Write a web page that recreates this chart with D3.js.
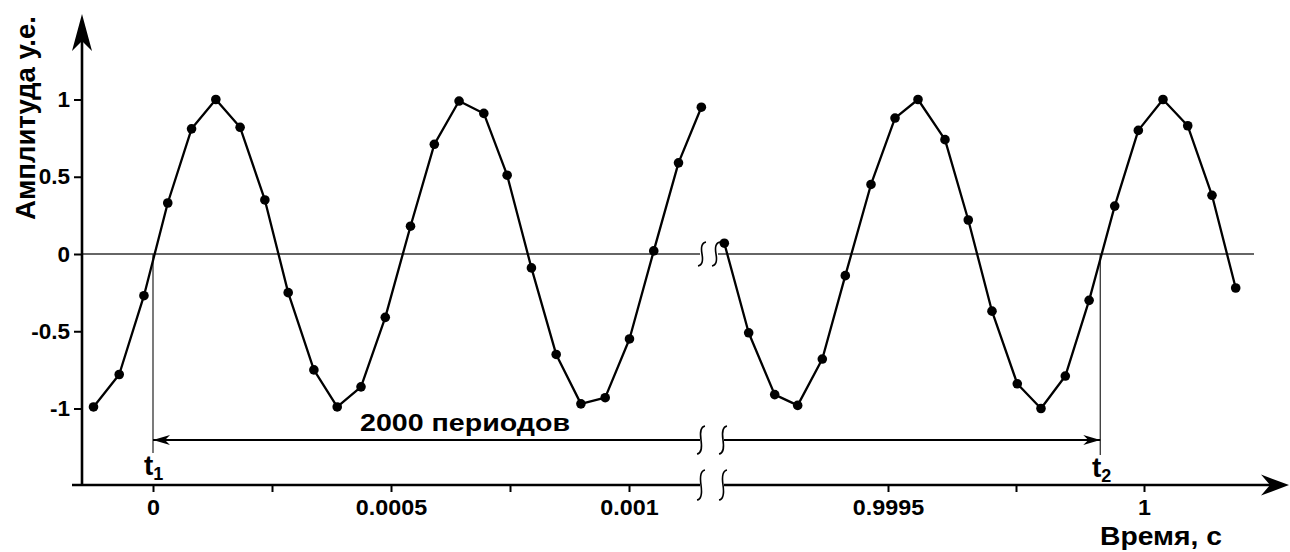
<!DOCTYPE html>
<html><head><meta charset="utf-8">
<script src="https://cdn.jsdelivr.net/npm/d3@7"></script>
<style>
html,body{margin:0;padding:0;background:#fff;}
text{font-family:"Liberation Sans",Arial,sans-serif;font-weight:bold;fill:#000;}
</style></head><body>
<svg id="chart" width="1290" height="552"></svg>
<script>
// Samples of the signal in the first window (start of the record), seconds
const timesStart = [-0.000125,-0.000071,-0.000019,0.000031,0.000081,0.000132,0.000183,0.000235,0.000284,0.000338,
  0.000387,0.000437,0.000488,0.000541,0.000591,0.000643,0.000695,0.000744,0.000795,0.000847,
  0.000899,0.000950,0.001001,0.001052,0.001104,0.001152];
const ampStart = [-0.99,-0.78,-0.27,0.33,0.81,1.0,0.82,0.35,-0.25,-0.75,
  -0.99,-0.86,-0.41,0.18,0.71,0.99,0.91,0.51,-0.09,-0.65,
  -0.97,-0.93,-0.55,0.02,0.59,0.95];
// Samples in the second window (around t = 1 s)
const timesEnd = [0.9991803,0.9992279,0.9992787,0.9993236,0.9993717,0.9994166,0.9994668,0.9995137,0.9995586,
  0.9996113,0.9996568,0.9997031,0.9997525,0.9997988,0.9998463,0.9998928,0.9999428,0.9999889,
  1.0000371,1.0000854,1.0001328,1.0001791];
const ampEnd = [0.07,-0.51,-0.91,-0.98,-0.68,-0.14,0.45,0.88,1.0,
  0.74,0.22,-0.37,-0.84,-1.0,-0.79,-0.30,0.31,0.80,
  1.0,0.83,0.38,-0.22];

const yTicks = [-1,-0.5,0,0.5,1];
const yTickLabels = ["-1","-0.5","0","0.5","1"];
const xTicksStart = [0,0.00025,0.0005,0.00075,0.001];
const xTickLabelsStart = ["0","","0.0005","","0.001"];
const xTicksEnd = [0.9995,0.99975,1];
const xTickLabelsEnd = ["0.9995","","1"];
const tMarkStart = 0, tMarkEnd = 0.9999146;
const yTitle = "Амплитуда у.е.";
const xTitle = "Время, с";
const spanLabel = "2000 периодов";

const svg = d3.select("#chart");
svg.append("rect").attr("width",1290).attr("height",552).attr("fill","#fff");

const xStart = d3.scaleLinear().domain([0,0.001]).range([153,629]);
const xEnd = d3.scaleLinear().domain([0.9995,1]).range([888,1144]);
const y = d3.scaleLinear().domain([-1,1]).range([408.5,99.5]);

const axisX = 82, axisYpos = 485;
const breakL = 700, breakR = 724;          // gap on the time axis
const zeroBreakL = 700, zeroBreakR = 718;  // gap on the zero line

// break symbol: a small integral-like stroke
function breakMark(x, yc, h){
  const a = h/2;
  svg.append("path")
    .attr("d",`M${x+4},${yc-a} Q${x-2},${yc-a+1} ${x},${yc} Q${x+2},${yc+a-1} ${x-4},${yc+a}`)
    .attr("fill","none").attr("stroke","#000").attr("stroke-width",1.6);
}

// zero line
const y0 = y(0);
svg.append("line").attr("x1",axisX).attr("x2",zeroBreakL).attr("y1",y0).attr("y2",y0)
  .attr("stroke","#333").attr("stroke-width",1.3);
svg.append("line").attr("x1",zeroBreakR).attr("x2",1254).attr("y1",y0).attr("y2",y0)
  .attr("stroke","#333").attr("stroke-width",1.3);
breakMark(zeroBreakL+2, y0, 24);
breakMark(zeroBreakR-2, y0, 24);

// markers t1 / t2
const xm1 = xStart(tMarkStart), xm2 = xEnd(tMarkEnd);
svg.append("line").attr("x1",xm1).attr("x2",xm1).attr("y1",y0).attr("y2",453)
  .attr("stroke","#333").attr("stroke-width",1.3);
svg.append("line").attr("x1",xm2).attr("x2",xm2).attr("y1",y0).attr("y2",455)
  .attr("stroke","#333").attr("stroke-width",1.3);

// dimension line "2000 периодов"
const dimY = 440;
svg.append("line").attr("x1",xm1).attr("x2",breakL).attr("y1",dimY).attr("y2",dimY)
  .attr("stroke","#000").attr("stroke-width",2);
svg.append("line").attr("x1",breakR).attr("x2",xm2).attr("y1",dimY).attr("y2",dimY)
  .attr("stroke","#000").attr("stroke-width",2);
breakMark(breakL+1, dimY, 28);
breakMark(breakR-1, dimY, 28);
svg.append("path").attr("d",`M${xm1},${dimY} L${xm1+17},${dimY-5} L${xm1+12},${dimY} L${xm1+17},${dimY+5} Z`)
  .attr("fill","#000");
svg.append("path").attr("d",`M${xm2},${dimY} L${xm2-17},${dimY-5} L${xm2-12},${dimY} L${xm2-17},${dimY+5} Z`)
  .attr("fill","#000");
svg.append("text").attr("x",465).attr("y",431).attr("text-anchor","middle")
  .attr("font-size",24).attr("textLength",210).attr("lengthAdjust","spacingAndGlyphs").text(spanLabel);

// marker labels
function markLabel(x, yb, sub){
  const t = svg.append("text").attr("x",x).attr("y",yb).attr("font-size",28);
  t.append("tspan").text("t");
  t.append("tspan").attr("font-size",18).attr("dy",5).text(sub);
}
markLabel(144, 475, "1");
markLabel(1092, 477, "2");

// y axis
const gy = svg.append("g").attr("transform",`translate(${axisX},0)`)
  .call(d3.axisLeft(y).tickValues(yTicks).tickFormat((d,i)=>yTickLabels[i]).tickSize(8).tickPadding(4));
gy.select(".domain").remove();
gy.selectAll(".tick line").attr("stroke","#000").attr("stroke-width",2);
gy.selectAll(".tick text").attr("font-size",22.5).attr("font-family",null).attr("fill","#000");
svg.append("line").attr("x1",axisX).attr("x2",axisX).attr("y1",axisYpos).attr("y2",40)
  .attr("stroke","#000").attr("stroke-width",2.6);
svg.append("path").attr("d",`M${axisX},14 L${axisX+10},51 L${axisX},41 L${axisX-10},51 Z`).attr("fill","#000");

// x axis (two pieces with a break)
function xAxisPart(scale, vals, labels){
  const g = svg.append("g").attr("transform",`translate(0,${axisYpos})`)
    .call(d3.axisBottom(scale).tickValues(vals).tickFormat((d,i)=>labels[i]).tickSize(7).tickPadding(7));
  g.select(".domain").remove();
  g.selectAll(".tick line").attr("stroke","#000").attr("stroke-width",2);
  g.selectAll(".tick text").attr("font-size",22).attr("font-family",null).attr("fill","#000")
    .attr("transform","scale(1.06,1)");
}
xAxisPart(xStart, xTicksStart, xTickLabelsStart);
xAxisPart(xEnd, xTicksEnd, xTickLabelsEnd);
svg.append("line").attr("x1",72).attr("x2",breakL).attr("y1",axisYpos).attr("y2",axisYpos)
  .attr("stroke","#000").attr("stroke-width",2.6);
svg.append("line").attr("x1",breakR).attr("x2",1272).attr("y1",axisYpos).attr("y2",axisYpos)
  .attr("stroke","#000").attr("stroke-width",2.6);
breakMark(breakL+1, axisYpos, 30);
breakMark(breakR-1, axisYpos, 30);
svg.append("path").attr("d",`M1289,${axisYpos} L1261,${axisYpos-10.5} L1270,${axisYpos} L1261,${axisYpos+10.5} Z`).attr("fill","#000");

// axis titles
svg.append("text").attr("x",1161).attr("y",545).attr("text-anchor","middle")
  .attr("font-size",26).attr("textLength",122).attr("lengthAdjust","spacingAndGlyphs").text(xTitle);
svg.append("text").attr("transform","translate(35,118) rotate(-90)").attr("text-anchor","middle")
  .attr("font-size",27.5).text(yTitle);

// signal: two windows, each a polyline with sample dots
const line = (sx) => d3.line().x(d=>sx(d.t)).y(d=>y(d.v));
const seriesStart = timesStart.map((t,i)=>({t, v: ampStart[i]}));
const seriesEnd = timesEnd.map((t,i)=>({t, v: ampEnd[i]}));
[[seriesStart,xStart],[seriesEnd,xEnd]].forEach(([data,sx])=>{
  svg.append("path").datum(data).attr("d",line(sx)).attr("fill","none")
    .attr("stroke","#000").attr("stroke-width",2.3).attr("stroke-linejoin","round");
  svg.append("g").selectAll("circle").data(data).join("circle")
    .attr("cx",d=>sx(d.t)).attr("cy",d=>y(d.v)).attr("r",4.8).attr("fill","#000");
});
</script>
</body></html>
